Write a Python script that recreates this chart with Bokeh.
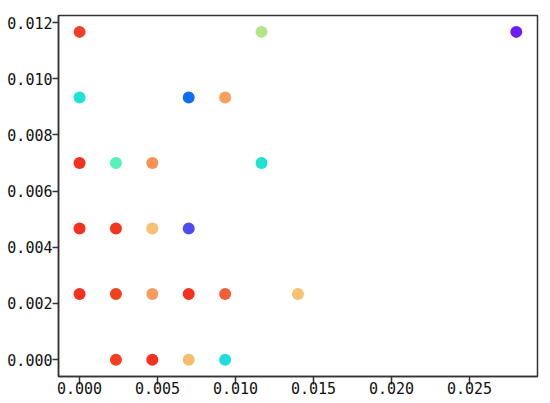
from bokeh.plotting import figure
from bokeh.models import ColumnDataSource, FixedTicker, PrintfTickFormatter, Range1d
from bokeh.embed import file_html
from bokeh.resources import INLINE

# data
x_vals = [0.0, 0.011667, 0.028,
          0.0, 0.007, 0.009333,
          0.0, 0.002333, 0.004667, 0.011667,
          0.0, 0.002333, 0.004667, 0.007,
          0.0, 0.002333, 0.004667, 0.007, 0.009333, 0.014,
          0.002333, 0.004667, 0.007, 0.009333]
y_vals = [0.011667, 0.011667, 0.011667,
          0.009333, 0.009333, 0.009333,
          0.007, 0.007, 0.007, 0.007,
          0.004667, 0.004667, 0.004667, 0.004667,
          0.002333, 0.002333, 0.002333, 0.002333, 0.002333, 0.002333,
          0.0, 0.0, 0.0, 0.0]
point_colors = ["#f4402a", "#b0e58a", "#6a1ef2",
                "#1ee2d2", "#0f6ef0", "#f7a060",
                "#f4301e", "#52f2b8", "#f89252", "#1ee2d2",
                "#f4301e", "#f4361e", "#f8c072", "#4c4cf2",
                "#f4301e", "#f4401e", "#f79a5e", "#f4301e", "#f2603a", "#f7c272",
                "#f4401e", "#f4301e", "#f8bc6e", "#20dcdc"]
x_ticks = [0.0, 0.005, 0.010, 0.015, 0.020, 0.025]
y_ticks = [0.0, 0.002, 0.004, 0.006, 0.008, 0.010, 0.012]

src = ColumnDataSource(dict(x=x_vals, y=y_vals, c=point_colors))

p = figure(width=550, height=403, output_backend="svg", toolbar_location=None,
           x_range=Range1d(-0.00135, 0.02936), y_range=Range1d(-0.0006, 0.01225),
           min_border_left=58, min_border_right=13, min_border_top=15, min_border_bottom=27)

p.scatter("x", "y", source=src, size=12, fill_color="c", line_color="c", line_width=0)

p.xgrid.visible = False
p.ygrid.visible = False
p.background_fill_color = "white"
p.border_fill_color = "white"
p.outline_line_color = "#333333"
p.outline_line_width = 1.5

for ax, ticks in ((p.xaxis[0], x_ticks), (p.yaxis[0], y_ticks)):
    ax.ticker = FixedTicker(ticks=ticks)
    ax.formatter = PrintfTickFormatter(format="%.3f")
    ax.minor_tick_line_color = None
    ax.major_tick_in = 0
    ax.major_tick_out = 6
    ax.axis_line_color = "#333333"
    ax.axis_line_width = 1.5
    ax.major_tick_line_color = "#333333"
    ax.major_tick_line_width = 1.5
    ax.major_label_text_font = "DejaVu Sans Mono"
    ax.major_label_text_font_size = "15px"
    ax.major_label_text_color = "#111111"

p.xaxis[0].major_tick_out = 8
p.xaxis[0].major_label_standoff = -3
p.yaxis[0].major_label_standoff = 0

open("out.html", "w").write(file_html(p, INLINE))
